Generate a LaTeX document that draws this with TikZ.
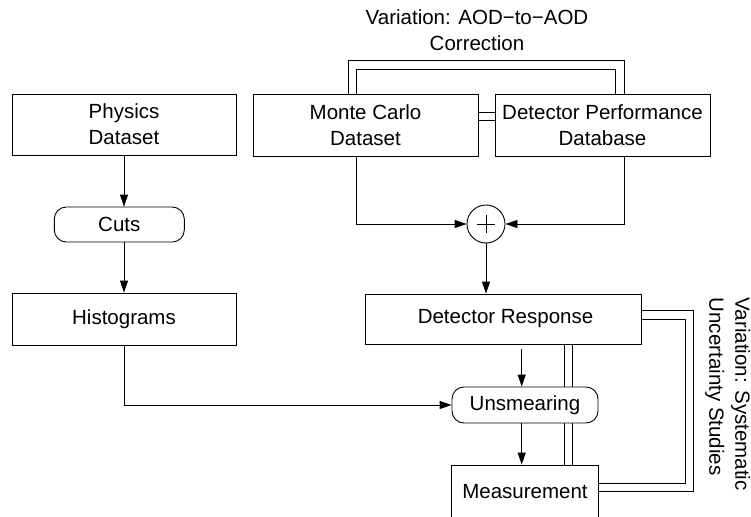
\documentclass[tikz,border=0pt]{standalone}
\usepackage{fontspec}
\setmainfont{Liberation Sans}
\usetikzlibrary{arrows.meta,backgrounds}
\begin{document}
\begin{tikzpicture}[x=1pt,y=-1pt,
  every node/.style={font=\fontsize{20.5}{26}\selectfont},
  box/.style={draw, fill=white, line width=0.9pt, align=center, inner sep=0pt},
  rbox/.style={box, rounded corners=12pt},
  arr/.style={line width=0.9pt, -{Triangle[length=12pt,width=8pt]}},
  dbl/.style={line width=0.9pt, double, double distance=7.4pt},
  ln/.style={line width=0.9pt}]
\useasboundingbox (0,0) rectangle (751,516);
% nodes
\node[box, minimum width=224pt, minimum height=61pt] (phys) at (124,124.5) {Physics\\Dataset};
\node[box, minimum width=225pt, minimum height=62pt] (mc) at (365.5,125.5) {Monte Carlo\\Dataset};
\node[box, minimum width=215pt, minimum height=62pt] (dpd) at (602.5,125.5) {Detector Performance\\Database};
\node[rbox, minimum width=130pt, minimum height=35pt] (cuts) at (119.3,224.5) {Cuts};
\node[box, minimum width=224pt, minimum height=52pt] (hist) at (124,319) {Histograms};
\node[draw, circle, fill=white, line width=0.9pt, minimum size=38pt, inner sep=0pt] (sum) at (486,224) {};
\node[box, minimum width=276pt, minimum height=50pt] (dr) at (503,319) {\hspace*{5pt}Detector Response};
\node[rbox, minimum width=146pt, minimum height=36pt] (unsm) at (525,405) {Unsmearing};
\node[box, minimum width=146.6pt, minimum height=54pt] (meas) at (525,492) {Measurement};
\node[align=center] (title) at (477,30) {Variation: AOD−to−AOD\\Correction};
\node[rotate=-90, anchor=north west, align=left, inner sep=0pt] (syslabel) at (750.5,297.5) {Variation: Systematic\\Uncertainty Studies};
% plus sign
\draw[ln] ([xshift=-8.7pt]sum.center) -- ([xshift=8.7pt]sum.center);
\draw[ln] ([yshift=-8.7pt]sum.center) -- ([yshift=8.7pt]sum.center);
% double connectors behind
\begin{pgfonlayer}{background}
\draw[dbl] (352.3,0 |- mc.north) -- (352.3,65) -- (620,65) -- (620,0 |- dpd.north);
\draw[dbl] (mc.east |- 0,116.2) -- (dpd.west |- 0,116.2);
\draw[dbl] (568.2,0 |- dr.south) -- (568.2,0 |- meas.north);
\draw[dbl] (dr.east |- 0,315) -- (689.2,315) -- (689.2,487.2) -- (meas.east |- 0,487.2);
\end{pgfonlayer}
% arrows
\draw[arr] (phys.south) -- (phys.south |- cuts.north);
\draw[arr] (phys.south |- cuts.south) -- (hist.north);
\draw[arr] (356.7,0 |- mc.south) |- (sum.west);
\draw[arr] (624.3,0 |- dpd.south) |- (sum.east);
\draw[arr] (sum.south) -- (sum.south |- dr.north);
\draw[arr] (hist.south) |- (unsm.west);
\draw[arr, shorten <=5pt] (521.7,0 |- dr.south) -- (521.7,0 |- unsm.north);
\draw[arr] (521.7,0 |- unsm.south) -- (521.7,0 |- meas.north);
\end{tikzpicture}
\end{document}
